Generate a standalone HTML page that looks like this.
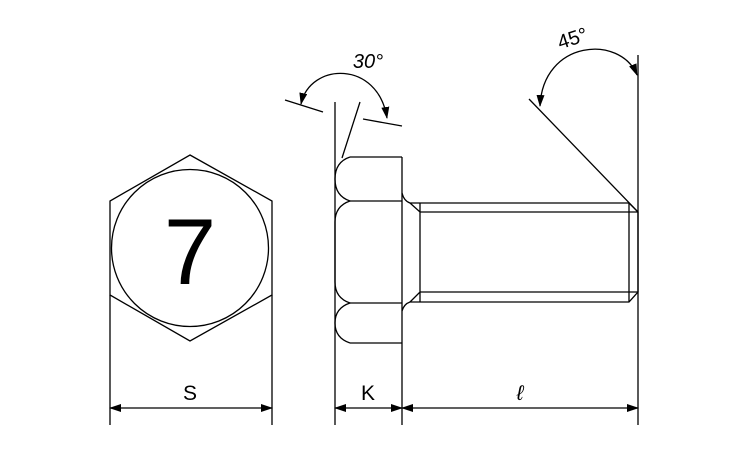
<!DOCTYPE html>
<html><head><style>body{margin:0;background:#fff}svg{display:block}</style></head><body>
<svg width="750" height="450" viewBox="0 0 750 450" xmlns="http://www.w3.org/2000/svg">
<defs><marker id="a" markerWidth="12" markerHeight="8" refX="11" refY="4" orient="auto" markerUnits="userSpaceOnUse"><path d="M0,0 L12,4 L0,8 Z" fill="#000"/></marker>
<marker id="b" markerWidth="12" markerHeight="8" refX="1" refY="4" orient="auto" markerUnits="userSpaceOnUse"><path d="M12,0 L0,4 L12,8 Z" fill="#000"/></marker></defs>
<g fill="none" stroke="#000" stroke-width="1.3">
<polygon points="190,155 272,201 272,295 190,341 110,295 110,201"/>
<circle cx="190" cy="248" r="78.5"/>
<line x1="110" y1="295" x2="110" y2="425"/><line x1="272" y1="295" x2="272" y2="425"/>
<line x1="110" y1="408" x2="272" y2="408" marker-start="url(#b)" marker-end="url(#a)"/>
<line x1="335" y1="102" x2="335" y2="425"/>
<line x1="402" y1="157" x2="402" y2="425"/>
<line x1="360" y1="102" x2="342" y2="158"/>
<path d="M350,157 L402,157 M350,201 L402,201 M350,303 L402,303 M350,343 L402,343"/>
<path d="M350,157 Q335,162 335,179 Q335,196 350,201 Q335,206 335,222 L335,282 Q335,298 350,303 Q335,308 335,323 Q335,338 350,343"/>
<path d="M402,193 Q404,201 410,203 L629,203 L638,212 L638,292 L629,302 L410,302 Q404,304 402,311"/>
<path d="M410,203 L420,212 L638,212 M410,302 L420,292 L638,292 M420,203 L420,302 M629,203 L629,302"/>
<line x1="638" y1="55" x2="638" y2="425"/>
<line x1="529" y1="99" x2="638" y2="212"/>
<line x1="335" y1="408" x2="402" y2="408" marker-start="url(#b)" marker-end="url(#a)"/>
<line x1="402" y1="408" x2="638" y2="408" marker-start="url(#b)" marker-end="url(#a)"/>
<line x1="285" y1="100" x2="323" y2="112"/>
<line x1="363" y1="119" x2="402" y2="126"/>
<path d="M301,104 C310,62 378,60 387,118" marker-start="url(#b)" marker-end="url(#a)"/>
<path d="M540,106 C543,40 620,34 637,75" marker-start="url(#b)" marker-end="url(#a)"/>
</g>
<g font-family="Liberation Sans, sans-serif" fill="#000">
<text x="190" y="284" font-size="94" text-anchor="middle">7</text>
<text x="190" y="400" font-size="21" text-anchor="middle">S</text>
<text x="368" y="400" font-size="21" text-anchor="middle">K</text>
<text x="520" y="400" font-size="21" text-anchor="middle" font-style="italic">ℓ</text>
<text x="368" y="68" font-size="20" text-anchor="middle" font-style="italic">30°</text>
<text x="573" y="45" font-size="20" text-anchor="middle" transform="rotate(-18 573 40)">45°</text>
</g>
</svg>
</body></html>
